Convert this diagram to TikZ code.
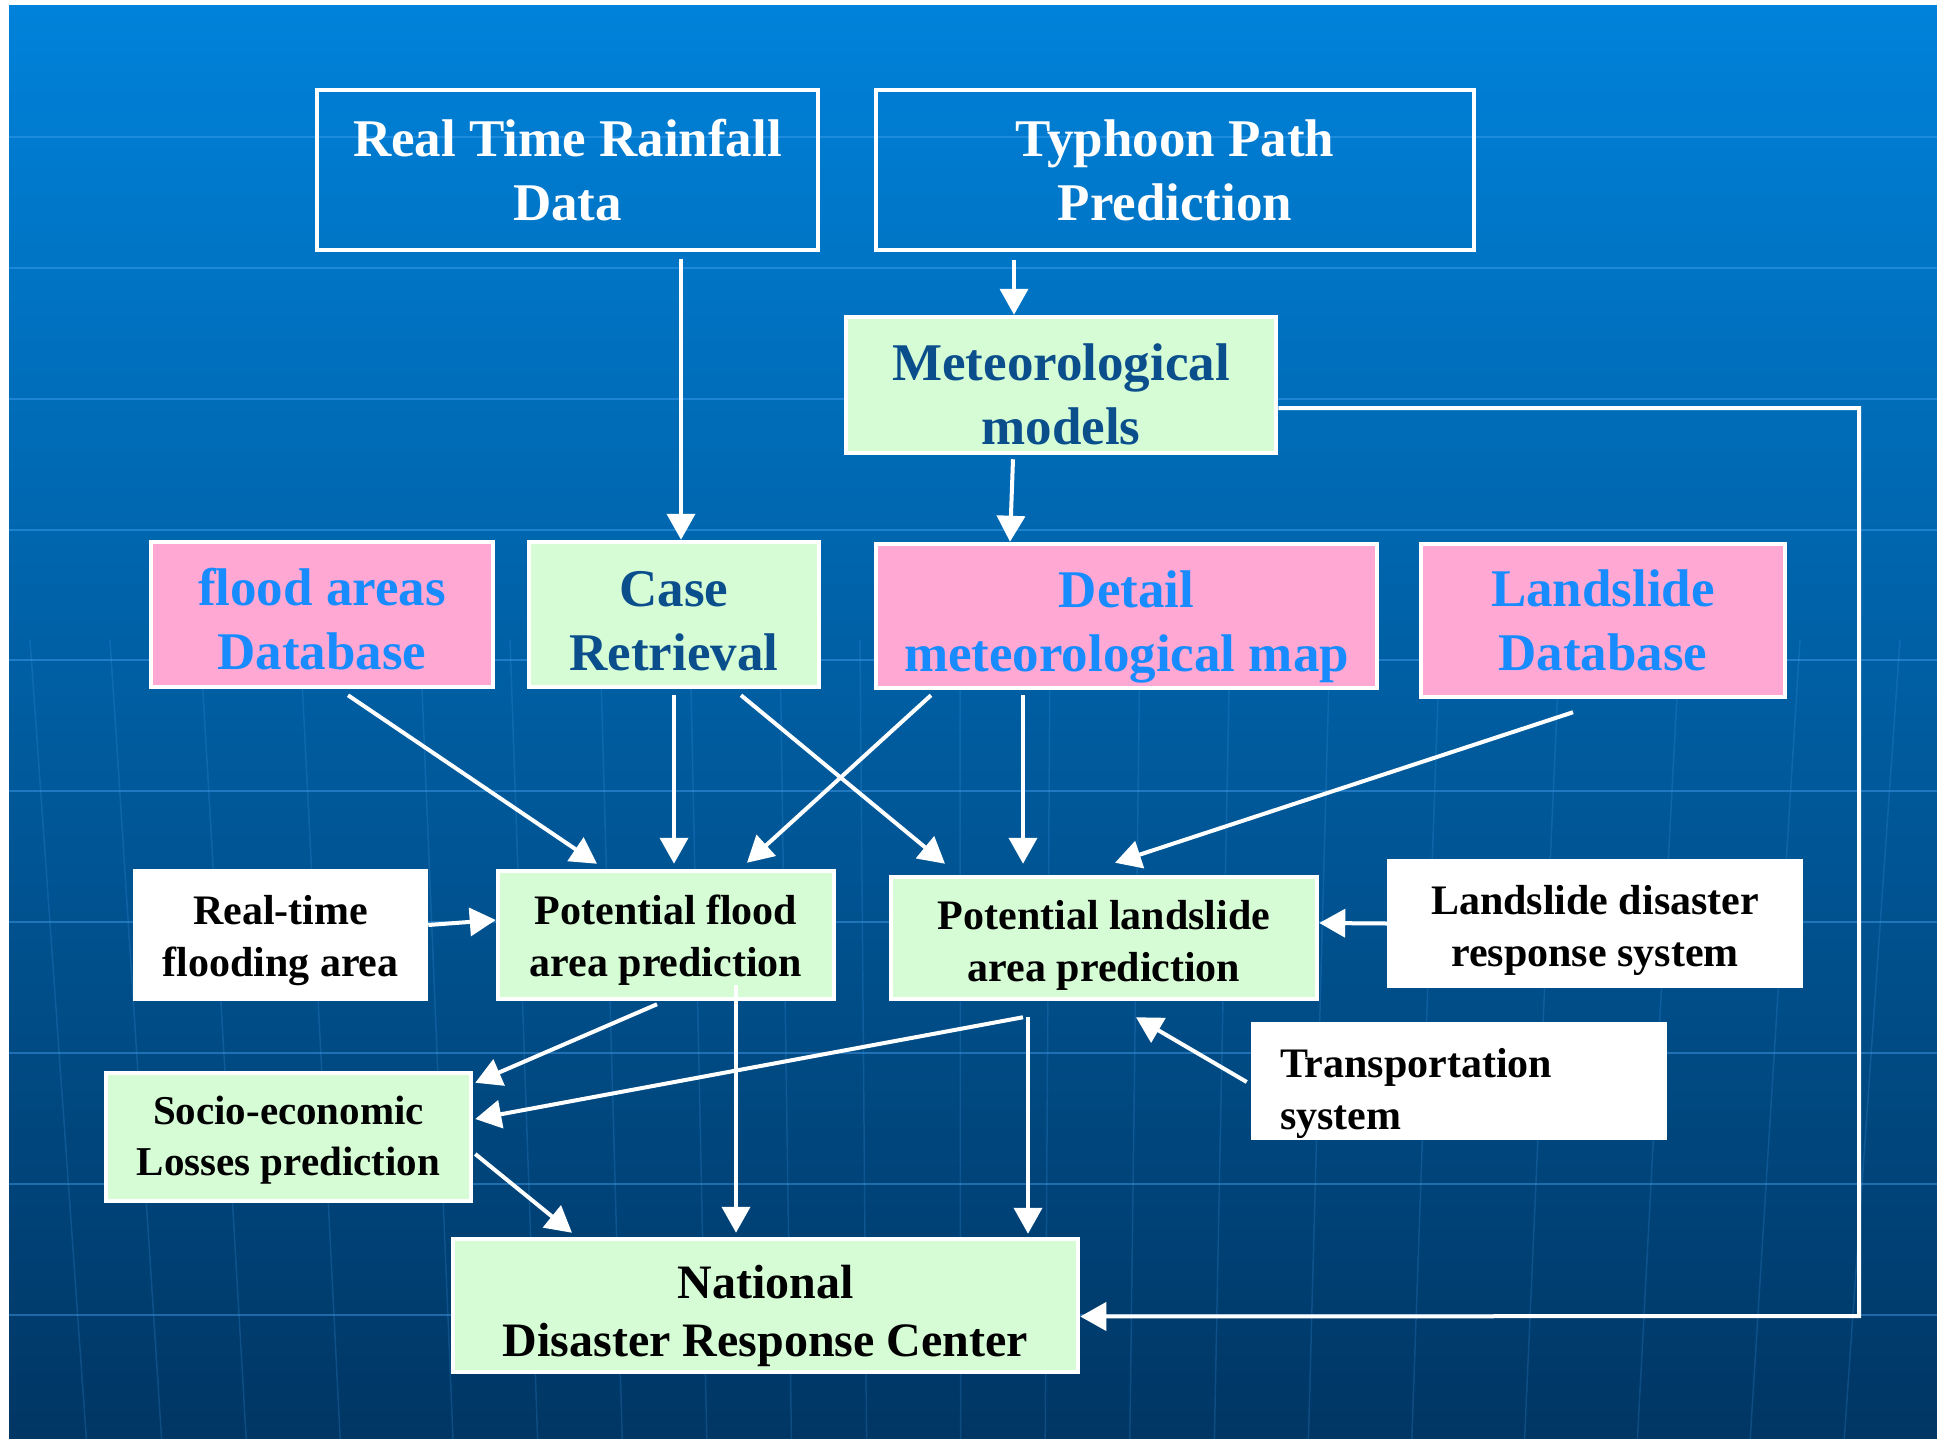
\documentclass[tikz,border=0pt]{standalone}
\usepackage{fontspec}
\setmainfont{Liberation Serif}
\usetikzlibrary{arrows.meta,calc}

\definecolor{bgtop}{RGB}{0,130,218}
\definecolor{bgbot}{RGB}{0,54,100}
\definecolor{mint}{RGB}{214,252,214}
\definecolor{pinkfill}{RGB}{255,168,212}
\definecolor{skyblue}{RGB}{24,140,255}
\definecolor{darkblue}{RGB}{10,78,140}
\definecolor{gridblue}{RGB}{70,160,240}

% strut that pushes the lines of a box down
\newcommand{\sdown}[1]{\rule{0pt}{\dimexpr0.7em+#1\relax}}

\tikzset{
  dbox/.style={draw=white, line width=4.5pt, inner sep=0pt, align=center},
  bigtext/.style={font=\bfseries\fontsize{53}{64}\selectfont},
  smalltext/.style={font=\bfseries\fontsize{42}{52}\selectfont},
  topbox/.style={dbox, bigtext, text=white},
  greenbig/.style={dbox, bigtext, fill=mint, text=darkblue},
  pinkbox/.style={dbox, bigtext, fill=pinkfill, text=skyblue},
  greensmall/.style={dbox, smalltext, fill=mint, text=black},
  whitebox/.style={dbox, smalltext, fill=white, text=black},
  arr/.style={draw=white, line width=4pt, -{Triangle[width=28pt,length=26pt]}},
  hline/.style={gridblue, line width=2pt, opacity=0.45},
  meridian/.style={gridblue, line width=1.5pt, opacity=0.2}
}

\begin{document}
\begin{tikzpicture}[x=1pt,y=-1pt]
  \useasboundingbox (0,0) rectangle (1937,1439);
  \fill[white] (0,0) rectangle (1937,1439);
  \shade[top color=bgtop, bottom color=bgbot] (9,6) rectangle (1937,1439);

  % faint grid of the slide background
  \foreach \y in {137,268,399,530,660,791,922,1053,1184,1315}
    \draw[hline] (9,\y) -- (1937,\y);
  \foreach \x in {30,110,200,300,420,510,600,690,780,860,960,1050,1140,1230,1330,1440,1560,1680,1800,1900}
    \draw[meridian] (\x,640) -- ({\x+(970-\x)*0.06},1439);

  % input boxes
  \node[topbox, minimum width=501pt, minimum height=160pt] (rain) at (567.5,170) {Real Time Rainfall\\Data};
  \node[topbox, minimum width=598pt, minimum height=160pt] (typh) at (1175,170) {Typhoon Path\\Prediction};
  \node[greenbig, minimum width=430pt, minimum height=136pt] (met) at (1061,385) {\sdown{18pt}Meteorological\\models};

  \node[pinkbox, minimum width=342pt, minimum height=145pt] (fdb) at (322,614.5) {\sdown{10pt}flood areas\\Database};
  \node[greenbig, minimum width=290pt, minimum height=145pt] (case) at (674,614.5) {\sdown{12pt}Case\\Retrieval};
  \node[pinkbox, minimum width=501pt, minimum height=144pt] (detail) at (1126.5,616) {\sdown{22pt}Detail\\meteorological map};
  \node[pinkbox, minimum width=364pt, minimum height=153pt] (lsdb) at (1603,620.5) {Landslide\\Database};

  % prediction boxes
  \node[whitebox, minimum width=291pt, minimum height=128pt] (rtf) at (280.5,935) {\sdown{10pt}Real-time\\flooding area};
  \node[greensmall, minimum width=336pt, minimum height=128pt] (pflood) at (666,935) {\sdown{10pt}Potential flood\\area prediction};
  \node[greensmall, minimum width=426pt, minimum height=122pt] (pland) at (1104,938) {\sdown{14pt}Potential landslide\\area prediction};
  \node[whitebox, minimum width=412pt, minimum height=125pt] (lsdr) at (1595,923.5) {\sdown{14pt}Landslide disaster\\response system};
  \node[whitebox, minimum width=412pt, minimum height=112pt, text width=358pt, align=left] (trans) at (1459,1081) {\sdown{24pt}Transportation\\system};
  \node[greensmall, font=\bfseries\fontsize{41}{51}\selectfont, minimum width=365pt, minimum height=128pt] (socio) at (288.5,1137) {\sdown{6pt}Socio-economic\\Losses prediction};
  \node[greensmall, font=\bfseries\fontsize{48}{58}\selectfont, minimum width=625pt, minimum height=133pt] (nat) at (765.5,1305.5) {\sdown{20pt}National\\Disaster Response Center};

  % connectors
  \draw[arr] ($(rain.south)+(113.5,7)$) -- ($(case.north)+(7,0)$);
  \draw[arr] ($(typh.south)+(-161,8)$) -- ($(met.north)+(-47,0)$);
  \draw[arr] ($(met.south)+(-48,4)$) -- ($(detail.north)+(-116.5,0)$);
  \coordinate (corner) at (1859,1316);
  \draw[arr] ($(met.east)+(0,23)$) -| (corner) -- ($(nat.east)+(0,11)$);

  \draw[arr] ($(fdb.south)+(26,6)$) -- ($(pflood.north)+(-69,-5)$);
  \draw[arr] ($(case.south)+(0,6)$) -- ($(pflood.north)+(8,-5)$);
  \draw[arr] ($(case.south)+(67,6)$) -- ($(pland.north)+(-159,-11)$);
  \draw[arr] ($(detail.south)+(-195.5,5)$) -- ($(pflood.north)+(81,-6)$);
  \draw[arr] ($(detail.south)+(-103.5,5)$) -- ($(pland.north)+(-81,-11)$);
  \draw[arr] ($(lsdb.south)+(-30,13)$) -- ($(pland.north)+(11,-12)$);

  \draw[arr] ($(rtf.east)+(0,-10)$) -- ($(pflood.west)+(0,-15)$);
  \draw[arr] (lsdr.west) -- ($(pland.east)+(0,-15)$);
  \draw[arr] ($(trans.west)+(-4,1)$) -- ($(pland.south)+(32,16)$);

  \draw[arr] ($(pflood.south)+(-9,3)$) -- ($(socio.north east)+(2,12)$);
  \draw[arr] ($(pland.south)+(-81,16)$) -- ($(socio.east)+(2,-18)$);
  \draw[arr] ($(pflood.south)+(70,-16)$) -- ($(nat.north)+(-29.5,-4)$);
  \draw[arr] ($(pland.south)+(-76,16)$) -- ($(nat.north)+(262.5,-3)$);
  \draw[arr] ($(socio.east)+(2,17)$) -- ($(nat.north)+(-193.5,-4)$);
\end{tikzpicture}
\end{document}
